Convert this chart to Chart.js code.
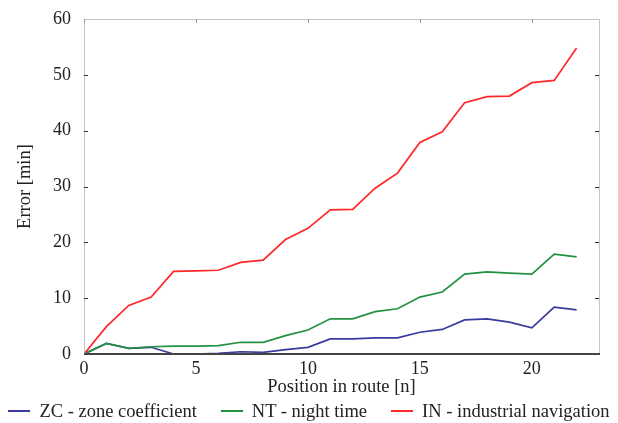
<!DOCTYPE html>
<html>
<head>
<meta charset="utf-8">
<script src="https://cdn.jsdelivr.net/npm/chart.js@4.4.1/dist/chart.umd.min.js"></script>
<style>
  html, body { margin: 0; padding: 0; background: #fff; }
  #wrap { position: relative; width: 618px; height: 423px; }
  #legenda {
    position: absolute; left: 0; top: 400px; width: 618px; height: 22px;
    display: flex; justify-content: center; align-items: center;
    font-family: 'Liberation Serif', 'Times New Roman', serif; font-size: 18.5px; color: #222;
    white-space: nowrap;
  }
  #legenda .item { display: flex; align-items: center; margin: 0 12px; }
  #legenda .traco { display: inline-block; width: 22px; height: 2px; margin-right: 9px; }
</style>
</head>
<body>
<div id="wrap">
  <canvas id="grafico"></canvas>
  <div id="legenda"></div>
</div>
<script>
// Posições na rota (eixo x)
const posicoes = [0, 1, 2, 3, 4, 5, 6, 7, 8, 9, 10, 11, 12, 13, 14, 15, 16, 17, 18, 19, 20, 21, 22];

// Erros em minutos
const erroZC = [0, 1.9, 1.0, 1.2, 0, 0, 0.1, 0.4, 0.3, 0.8, 1.2, 2.7, 2.7, 2.9, 2.9, 3.9, 4.4, 6.1, 6.3, 5.7, 4.7, 8.4, 7.9];
const erroNT = [0, 1.9, 1.0, 1.3, 1.4, 1.4, 1.5, 2.1, 2.1, 3.3, 4.3, 6.3, 6.3, 7.6, 8.1, 10.2, 11.1, 14.3, 14.7, 14.5, 14.3, 17.9, 17.4];
const erroIN = [0, 4.9, 8.7, 10.2, 14.8, 14.9, 15.0, 16.4, 16.8, 20.5, 22.5, 25.8, 25.9, 29.7, 32.4, 37.9, 39.8, 45.0, 46.1, 46.2, 48.6, 49.0, 54.8];

const nomes = ["ZC - zone coefficient", "NT - night time", "IN - industrial navigation"];
const cores = ["rgb(58, 58, 160)", "rgb(34, 145, 64)", "rgb(255, 40, 40)"];

const ticksX = [0, 5, 10, 15, 20];
const ticksY = [0, 10, 20, 30, 40, 50, 60];

const fonte = "'Liberation Serif', 'Times New Roman', serif";

function pontos(valores) {
    return posicoes.map((x, i) => ({ x: x, y: valores[i] }));
}

// Moldura e marcas para dentro, como no original
const moldura = {
    id: "moldura",
    afterDraw(chart) {
        const { ctx, chartArea: a, scales } = chart;
        ctx.save();
        // bordas esquerda, de cima e direita (cinza claro)
        ctx.strokeStyle = "#c4c4c4";
        ctx.lineWidth = 1;
        ctx.beginPath();
        ctx.moveTo(a.left + 0.5, a.bottom);
        ctx.lineTo(a.left + 0.5, a.top + 0.5);
        ctx.lineTo(a.right + 0.5, a.top + 0.5);
        ctx.lineTo(a.right + 0.5, a.bottom);
        ctx.stroke();
        // marcas de cima (claras)
        ctx.strokeStyle = "#999";
        ctx.beginPath();
        ticksX.forEach(v => {
            const px = Math.round(scales.x.getPixelForValue(v)) + 0.5;
            ctx.moveTo(px, a.top); ctx.lineTo(px, a.top + 4);
        });
        ctx.stroke();
        // marcas laterais (escuras)
        ctx.strokeStyle = "#333";
        ctx.beginPath();
        ticksY.forEach(v => {
            if (v === 0 || v === 60) return;
            const py = Math.round(scales.y.getPixelForValue(v)) + 0.5;
            ctx.moveTo(a.left, py); ctx.lineTo(a.left + 4, py);
            ctx.moveTo(a.right, py); ctx.lineTo(a.right - 4, py);
        });
        ctx.stroke();
        // eixo x (escuro)
        ctx.strokeStyle = "#444";
        ctx.lineWidth = 2;
        ctx.beginPath();
        ctx.moveTo(a.left, a.bottom);
        ctx.lineTo(a.right + 1, a.bottom);
        ctx.stroke();
        ctx.restore();
    }
};

const grafico = new Chart(document.getElementById("grafico"), {
    type: "line",
    data: {
        datasets: [
            // order maior = desenhado primeiro (fica por baixo)
            { label: nomes[0], data: pontos(erroZC), borderColor: cores[0], backgroundColor: cores[0], order: 3 },
            { label: nomes[1], data: pontos(erroNT), borderColor: cores[1], backgroundColor: cores[1], order: 2 },
            { label: nomes[2], data: pontos(erroIN), borderColor: cores[2], backgroundColor: cores[2], order: 1 }
        ]
    },
    options: {
        responsive: true,
        maintainAspectRatio: false,
        animation: false,
        layout: { padding: { top: 19, right: 19, left: 0, bottom: 27 } },
        elements: {
            point: { radius: 0 },
            line: { borderWidth: 1.7, tension: 0 }
        },
        plugins: {
            legend: { display: false },
            tooltip: { enabled: false }
        },
        scales: {
            x: {
                type: "linear",
                min: 0,
                max: 23,
                grid: { display: false },
                border: { display: false },
                afterBuildTicks(axis) { axis.ticks = ticksX.map(v => ({ value: v })); },
                afterFit(axis) { axis.height = 42; },
                ticks: { color: "#222", padding: -2, font: { family: fonte, size: 18, lineHeight: 1 } },
                title: {
                    display: true,
                    text: "Position in route [n]",
                    color: "#222",
                    padding: { top: 0, bottom: 0 },
                    font: { family: fonte, size: 18.5, lineHeight: 1 }
                }
            },
            y: {
                min: 0,
                max: 60,
                grid: { display: false },
                border: { display: false },
                afterBuildTicks(axis) { axis.ticks = ticksY.map(v => ({ value: v })); },
                afterFit(axis) { axis.width = 84; },
                ticks: { color: "#222", padding: 5, font: { family: fonte, size: 18 } },
                title: {
                    display: true,
                    text: "Error [min]",
                    color: "#222",
                    padding: { top: 16, bottom: 0 },
                    font: { family: fonte, size: 18.5, lineHeight: 1 }
                }
            }
        }
    },
    plugins: [moldura]
});

// Legenda em HTML, com as cores das séries
const legenda = document.getElementById("legenda");
grafico.data.datasets.forEach(ds => {
    const item = document.createElement("span");
    item.className = "item";
    const traco = document.createElement("span");
    traco.className = "traco";
    traco.style.background = ds.borderColor;
    item.appendChild(traco);
    item.appendChild(document.createTextNode(ds.label));
    legenda.appendChild(item);
});
</script>
</body>
</html>
